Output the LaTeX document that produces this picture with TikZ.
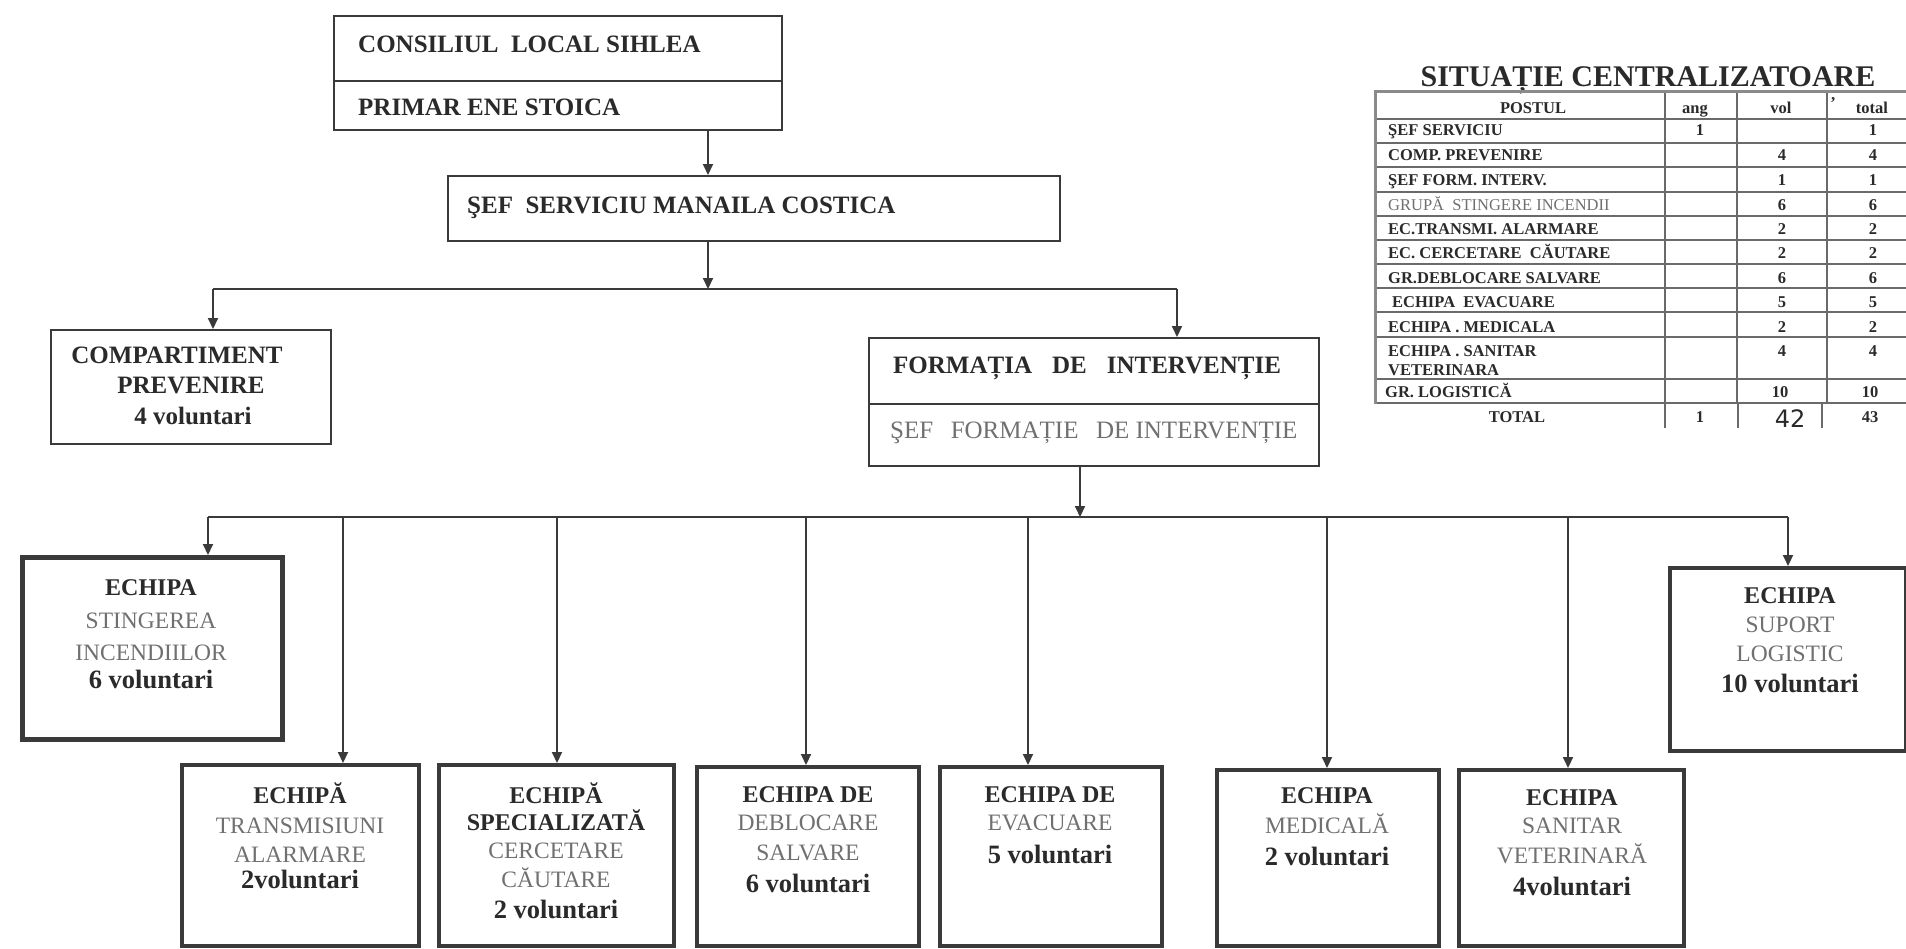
\documentclass[tikz,border=0pt]{standalone}
\usepackage{fontspec}
\setmainfont{Liberation Serif}
\newfontfamily\handfont{DejaVu Sans}
\usetikzlibrary{arrows.meta}
\definecolor{ink}{HTML}{2A2A2A}
\definecolor{soft}{HTML}{707070}
\definecolor{rulec}{HTML}{3A3A3A}
\definecolor{tline}{HTML}{6A6A6A}
\definecolor{tedge}{HTML}{8A8A8A}
\newcounter{lnc}
\newcommand\tl[4]{\stepcounter{lnc}\edef\lnname{L\arabic{lnc}}\node[anchor=base,inner sep=0pt,#1] (\lnname) at (#2,#3) {#4};}
\begin{document}
\begin{tikzpicture}[x=1pt,y=-1pt,
  bx/.style={draw=rulec, line width=2pt, inner sep=0pt, anchor=north west},
  tbx/.style={bx, line width=4pt},
  top/.style={font=\fontsize{25}{30}\selectfont\bfseries, text=ink},
  topr/.style={font=\fontsize{25}{30}\selectfont, text=soft},
  bt/.style={font=\fontsize{24}{29}\selectfont\bfseries, text=ink},
  vt/.style={font=\fontsize{26.5}{30}\selectfont\bfseries, text=ink},
  rt/.style={font=\fontsize{23.5}{29}\selectfont, text=soft},
  tt/.style={font=\fontsize{16.5}{19}\selectfont\bfseries, text=ink},
  ttr/.style={font=\fontsize{16.5}{19}\selectfont, text=soft},
  arr/.style={draw=rulec, line width=2pt, -{Triangle[length=11pt,width=10pt]}},
  lnk/.style={draw=rulec, line width=2pt},
  tl1/.style={draw=tline, line width=1.2pt},
  tl2/.style={draw=tedge, line width=3pt}]
\fill[white] (0,0) rectangle (1906,948);
\useasboundingbox (0,0) rectangle (1906,948);

% ---------- boxes ----------
\node[bx, minimum width=448pt, minimum height=65pt] (cons1) at (333,15) {};
\node[bx, minimum width=448pt, minimum height=49pt] (cons2) at (333,80) {};
\node[bx, minimum width=612pt, minimum height=65pt] (sef) at (447,175) {};
\node[bx, minimum width=280pt, minimum height=114pt] (comp) at (50,329) {};
\node[bx, minimum width=450pt, minimum height=66pt] (form1) at (868,337) {};
\node[bx, minimum width=450pt, minimum height=62pt] (form2) at (868,403) {};
\node[tbx, line width=5pt, minimum width=260pt, minimum height=182pt] (sting) at (20,555) {};
\node[tbx, minimum width=236pt, minimum height=183pt] (sup) at (1668,566) {};
\node[tbx, minimum width=237pt, minimum height=181pt] (b1) at (180,763) {};
\node[tbx, minimum width=235pt, minimum height=181pt] (b2) at (437,763) {};
\node[tbx, minimum width=222pt, minimum height=179pt] (b3) at (695,765) {};
\node[tbx, minimum width=222pt, minimum height=179pt] (b4) at (938,765) {};
\node[tbx, minimum width=222pt, minimum height=176pt] (b5) at (1215,768) {};
\node[tbx, minimum width=225pt, minimum height=176pt] (b6) at (1457,768) {};

% ---------- connectors ----------
\coordinate (xa) at (708,0);
\draw[arr] (xa |- cons2.south) -- (xa |- sef.north);
\coordinate (j1) at (708,289);
\coordinate (j1l) at (213,289);
\coordinate (j1r) at (1177,289);
\draw[arr] (j1 |- sef.south) -- (j1);
\draw[lnk] (j1l) -- (j1r);
\draw[arr] (j1l) -- (j1l |- comp.north);
\draw[arr] (j1r) -- (j1r |- form1.north);
\coordinate (j2) at (1080,517);
\draw[arr] (j2 |- form2.south) -- (j2);
\coordinate (d1) at (208,517);
\coordinate (d2) at (343,517);
\coordinate (d3) at (557,517);
\coordinate (d4) at (806,517);
\coordinate (d5) at (1028,517);
\coordinate (d6) at (1327,517);
\coordinate (d7) at (1568,517);
\coordinate (d8) at (1788,517);
\draw[lnk] (d1) -- (d8);
\draw[arr] (d1) -- (d1 |- sting.north);
\draw[arr] (d2) -- (d2 |- b1.north);
\draw[arr] (d3) -- (d3 |- b2.north);
\draw[arr] (d4) -- (d4 |- b3.north);
\draw[arr] (d5) -- (d5 |- b4.north);
\draw[arr] (d6) -- (d6 |- b5.north);
\draw[arr] (d7) -- (d7 |- b6.north);
\draw[arr] (d8) -- (d8 |- sup.north);

% ---------- box texts ----------
\tl{top,anchor=base west}{358}{52}{CONSILIUL\ \ LOCAL SIHLEA}
\tl{top,anchor=base west}{358}{115}{PRIMAR ENE STOICA}
\tl{top,anchor=base west}{467}{213}{ŞEF\ \ SERVICIU MANAILA COSTICA}
\tl{top}{177}{363}{COMPARTIMENT}
\tl{top}{191}{393}{PREVENIRE}
\tl{top}{193}{424}{4 voluntari}
\tl{top,anchor=base west}{893}{373}{FORMAȚIA\hspace{0.8em}DE\hspace{0.8em}INTERVENȚIE}
\tl{topr,anchor=base west}{890}{438}{ŞEF\hspace{0.7em}FORMAȚIE\hspace{0.7em}DE INTERVENȚIE}

\tl{bt}{151}{595}{ECHIPA}
\tl{rt}{151}{628}{STINGEREA}
\tl{rt}{151}{660}{INCENDIILOR}
\tl{vt}{151}{688}{6 voluntari}

\tl{bt}{1790}{603}{ECHIPA}
\tl{rt}{1790}{632}{SUPORT}
\tl{rt}{1790}{661}{LOGISTIC}
\tl{vt}{1790}{692}{10 voluntari}

\tl{bt}{300}{803}{ECHIPĂ}
\tl{rt}{300}{833}{TRANSMISIUNI}
\tl{rt}{300}{862}{ALARMARE}
\tl{vt}{300}{888}{2voluntari}

\tl{bt}{556}{803}{ECHIPĂ}
\tl{bt}{556}{830}{SPECIALIZATĂ}
\tl{rt}{556}{858}{CERCETARE}
\tl{rt}{556}{887}{CĂUTARE}
\tl{vt}{556}{918}{2 voluntari}

\tl{bt}{808}{802}{ECHIPA DE}
\tl{rt}{808}{830}{DEBLOCARE}
\tl{rt}{808}{860}{SALVARE}
\tl{vt}{808}{892}{6 voluntari}

\tl{bt}{1050}{802}{ECHIPA DE}
\tl{rt}{1050}{830}{EVACUARE}
\tl{vt}{1050}{863}{5 voluntari}

\tl{bt}{1327}{803}{ECHIPA}
\tl{rt}{1327}{833}{MEDICALĂ}
\tl{vt}{1327}{865}{2 voluntari}

\tl{bt}{1572}{805}{ECHIPA}
\tl{rt}{1572}{833}{SANITAR}
\tl{rt}{1572}{863}{VETERINARĂ}
\tl{vt}{1572}{895}{4voluntari}

% ---------- table ----------
\tl{font=\fontsize{30}{34}\selectfont\bfseries, text=ink}{1648}{86}{SITUAȚIE CENTRALIZATOARE}
\foreach \yy in {119,143,167,192,216,240,264,288,312,337,379,403}
  \draw[tl1] (1375,\yy) -- (1906,\yy);
\foreach \xx in {1665,1737,1827}
  \draw[tl1] (\xx,91) -- (\xx,403);
\draw[tl1] (1665,403) -- (1665,428);
\draw[tl1] (1738,403) -- (1738,428);
\draw[tl1] (1822,403) -- (1822,428);
\draw[tl2] (1375,91) -- (1906,91);
\draw[tl2] (1375,90) -- (1375,404);

\tl{tt}{1533}{113}{POSTUL}
\tl{tt}{1695}{113}{ang}
\tl{tt}{1781}{113}{vol}
\tl{tt}{1833}{108}{'}
\tl{tt}{1872}{113}{total}

\tl{tt,anchor=base west}{1388}{135}{ŞEF SERVICIU}
\tl{tt,anchor=base west}{1388}{160}{COMP. PREVENIRE}
\tl{tt,anchor=base west}{1388}{185}{ŞEF FORM. INTERV.}
\tl{ttr,anchor=base west}{1388}{210}{GRUPĂ\ \ STINGERE INCENDII}
\tl{tt,anchor=base west}{1388}{234}{EC.TRANSMI. ALARMARE}
\tl{tt,anchor=base west}{1388}{258}{EC. CERCETARE\ \ CĂUTARE}
\tl{tt,anchor=base west}{1388}{283}{GR.DEBLOCARE SALVARE}
\tl{tt,anchor=base west}{1392}{307}{ECHIPA\ \ EVACUARE}
\tl{tt,anchor=base west}{1388}{332}{ECHIPA . MEDICALA}
\tl{tt,anchor=base west}{1388}{356}{ECHIPA . SANITAR}
\tl{tt,anchor=base west}{1388}{375}{VETERINARA}
\tl{tt,anchor=base west}{1385}{397}{GR. LOGISTICĂ}
\tl{tt}{1517}{422}{TOTAL}

\tl{tt}{1700}{135}{1}
\tl{tt}{1873}{135}{1}
\tl{tt}{1782}{160}{4}
\tl{tt}{1873}{160}{4}
\tl{tt}{1782}{185}{1}
\tl{tt}{1873}{185}{1}
\tl{tt}{1782}{210}{6}
\tl{tt}{1873}{210}{6}
\tl{tt}{1782}{234}{2}
\tl{tt}{1873}{234}{2}
\tl{tt}{1782}{258}{2}
\tl{tt}{1873}{258}{2}
\tl{tt}{1782}{283}{6}
\tl{tt}{1873}{283}{6}
\tl{tt}{1782}{307}{5}
\tl{tt}{1873}{307}{5}
\tl{tt}{1782}{332}{2}
\tl{tt}{1873}{332}{2}
\tl{tt}{1782}{356}{4}
\tl{tt}{1873}{356}{4}
\tl{tt}{1780}{397}{10}
\tl{tt}{1870}{397}{10}
\tl{tt}{1700}{422}{1}
\tl{font=\handfont\fontsize{24}{26}\selectfont, text=ink}{1790}{427}{42}
\tl{tt}{1870}{422}{43}
\end{tikzpicture}
\end{document}
